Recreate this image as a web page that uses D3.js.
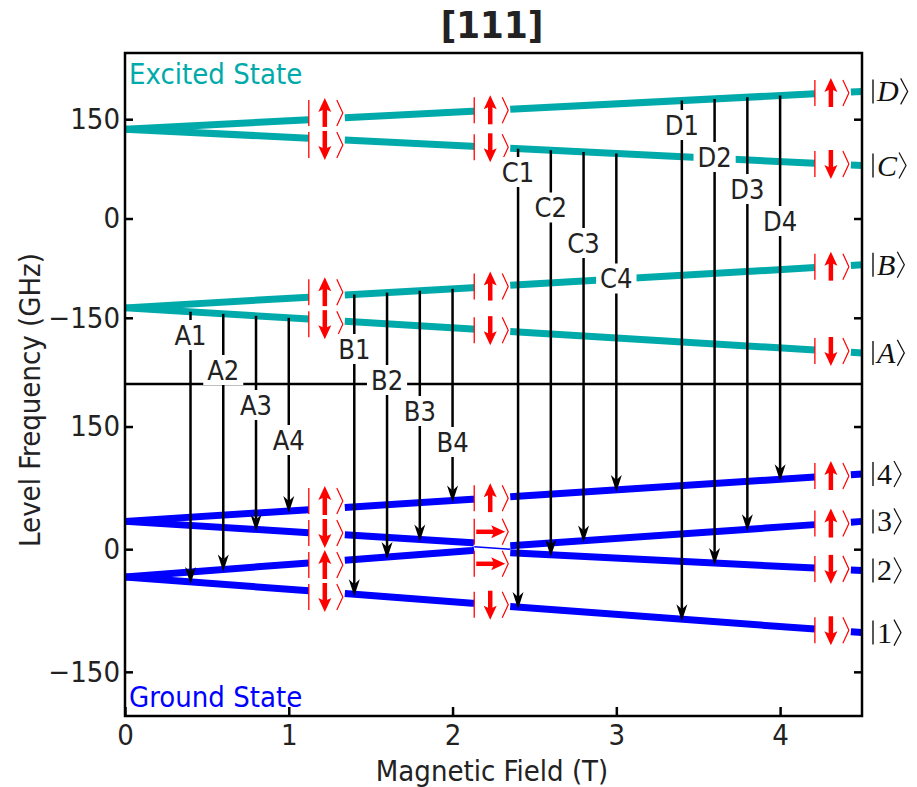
<!DOCTYPE html>
<html>
<head>
<meta charset="utf-8">
<script src="https://cdn.jsdelivr.net/npm/d3@7"></script>
<style>
  body { margin: 0; background: #fff; }
</style>
</head>
<body>
<div id="chart"></div>
<script>
// field points (T) where the level values below were read
const fieldPts = [0, 2.12, 2.35, 4.5];

// excited state levels (GHz)
const excitedNames = ['D', 'C', 'B', 'A'];
const levelD = [135, 162, 165, 192];
const levelC = [135, 109, 106, 80];
const levelB = [-135, -104.5, -101, -70];
const levelA = [-135, -167, -170.5, -203];

// ground state levels (GHz)
const groundNames = ['4', '3', '2', '1'];
const level4 = [34, 61, 64, 92];
const level3 = [-34, -1.5, 4.3, 34];
const level2 = [34, 8, -4.3, -26];
const level1 = [-34, -66, -70, -102];

// spin kets drawn on the levels
const ketFields = [1.22, 2.23, 4.31];
const excitedSpins = ['up', 'down', 'up', 'down'];
const groundSpins = [
    ['up', 'up', 'down', 'down'],
    ['up', 'right', 'right', 'down'],
    ['up', 'up', 'down', 'down']
];

// optical transitions
const transNames = ['A1', 'A2', 'A3', 'A4', 'B1', 'B2', 'B3', 'B4',
                    'C1', 'C2', 'C3', 'C4', 'D1', 'D2', 'D3', 'D4'];
const transFields = [0.4, 0.6, 0.8, 1.0, 1.4, 1.6, 1.8, 2.0,
                     2.4, 2.6, 2.8, 3.0, 3.4, 3.6, 3.8, 4.0];
const transFrom = ['A', 'A', 'A', 'A', 'B', 'B', 'B', 'B',
                   'C', 'C', 'C', 'C', 'D', 'D', 'D', 'D'];
const transTo = ['1', '3', '2', '4', '1', '3', '2', '4',
                 '1', '2', '3', '4', '1', '2', '3', '4'];

const xTicks = [0, 1, 2, 3, 4];
const yTicks = [-150, 0, 150];

// colours and fonts
const TEAL = '#00aaaa', BLUE = '#0000ff', RED = '#ff0000';
const SANS = "'Liberation Sans Narrow', 'DejaVu Sans Condensed', 'DejaVu Sans', sans-serif";
const SERIF = "'Liberation Serif', 'DejaVu Serif', serif";

const width = 917, height = 787;
const plotL = 125, plotR = 862, plotT = 53, plotMid = 384, plotB = 716;

const svg = d3.select('#chart').append('svg')
    .attr('width', width)
    .attr('height', height);

const x = d3.scaleLinear().domain([0, 4.5]).range([plotL, plotR]);
const yTop = d3.scaleLinear().domain([-250, 250]).range([plotMid, plotT]);
const yBot = d3.scaleLinear().domain([-204, 202]).range([plotB, plotMid]);

const makeLevel = vals => d3.scaleLinear().domain(fieldPts).range(vals);
const excited = {};
[levelD, levelC, levelB, levelA].forEach((v, i) => excited[excitedNames[i]] = makeLevel(v));
const ground = {};
[level4, level3, level2, level1].forEach((v, i) => ground[groundNames[i]] = makeLevel(v));

// level lines are broken where the kets sit
const gapL = 16 / (x(1) - x(0)), gapR = 20 / (x(1) - x(0));
const segs = [];
let s = 0;
ketFields.forEach(c => { segs.push([s, c - gapL]); s = c + gapR; });
segs.push([s, 4.5]);

const line = d3.line();
function drawLevel(f, y, color) {
    segs.forEach(([a, b]) => {
        const pts = [a, ...fieldPts.filter(p => p > a && p < b), b];
        svg.append('path')
            .attr('d', line(pts.map(p => [x(p), y(f(p))])))
            .attr('fill', 'none')
            .attr('stroke', color)
            .attr('stroke-width', 7);
    });
}
excitedNames.forEach(n => drawLevel(excited[n], yTop, TEAL));
groundNames.forEach(n => drawLevel(ground[n], yBot, BLUE));

// thin line through the anticrossing gap
const c2 = ketFields[1];
const midVal = b => (ground['3'](b) + ground['2'](b)) / 2;
svg.append('line')
    .attr('x1', x(c2 - gapL)).attr('x2', x(c2 + gapR))
    .attr('y1', yBot(midVal(c2 - gapL))).attr('y2', yBot(midVal(c2 + gapR)))
    .attr('stroke', BLUE).attr('stroke-width', 1.5);

// spread ket positions so they don't collide
function spread(ys, gap) {
    const idx = d3.range(ys.length).sort((a, b) => ys[a] - ys[b]);
    const v = idx.map(i => ys[i]);
    for (let it = 0; it < 80; it++) {
        for (let k = 0; k < v.length - 1; k++) {
            const d = v[k + 1] - v[k];
            if (d < gap) { v[k] -= (gap - d) / 2; v[k + 1] += (gap - d) / 2; }
        }
    }
    const out = [];
    idx.forEach((i, k) => out[i] = v[k]);
    return out;
}

function drawKet(cx, cy, dir) {
    const g = svg.append('g');
    g.append('line')
        .attr('x1', cx - 16).attr('x2', cx - 16)
        .attr('y1', cy - 13).attr('y2', cy + 13)
        .attr('stroke', RED).attr('stroke-width', 1.3);
    g.append('polyline')
        .attr('points', `${cx + 12},${cy - 13} ${cx + 18},${cy} ${cx + 12},${cy + 13}`)
        .attr('fill', 'none').attr('stroke', RED).attr('stroke-width', 1.2);
    const rot = { up: -90, down: 90, right: 0 }[dir];
    const a = g.append('g').attr('transform', `translate(${cx},${cy}) rotate(${rot})`);
    a.append('line')
        .attr('x1', -14).attr('x2', 5).attr('y1', 0).attr('y2', 0)
        .attr('stroke', RED).attr('stroke-width', 4.5);
    a.append('path')
        .attr('d', 'M15,0 L1,-6.5 L4,0 L1,6.5 Z')
        .attr('fill', RED);
}

ketFields.forEach((c, ci) => {
    const yt = spread(excitedNames.map(n => yTop(excited[n](c))), 32);
    excitedNames.forEach((n, i) => drawKet(x(c), yt[i], excitedSpins[i]));
    const yb = spread(groundNames.map(n => yBot(ground[n](c))), 32);
    groundNames.forEach((n, i) => drawKet(x(c), yb[i], groundSpins[ci][i]));
});

// transition arrows
transNames.forEach((name, i) => {
    const b = transFields[i];
    const x0 = x(b);
    const y0 = yTop(excited[transFrom[i]](b));
    const y1 = yBot(ground[transTo[i]](b)) + 2;
    svg.append('line')
        .attr('x1', x0).attr('x2', x0)
        .attr('y1', y0).attr('y2', y1 - 12)
        .attr('stroke', '#000').attr('stroke-width', 2.5);
    svg.append('path')
        .attr('d', `M${x0},${y1} L${x0 - 5.5},${y1 - 17} L${x0},${y1 - 12} L${x0 + 5.5},${y1 - 17} Z`)
        .attr('fill', '#000');
});

// frame, divider and axes
svg.append('rect')
    .attr('x', plotL).attr('y', plotT)
    .attr('width', plotR - plotL).attr('height', plotB - plotT)
    .attr('fill', 'none').attr('stroke', '#000').attr('stroke-width', 2.5);
svg.append('line')
    .attr('x1', plotL).attr('x2', plotR).attr('y1', plotMid).attr('y2', plotMid)
    .attr('stroke', '#000').attr('stroke-width', 2.5);

function styleAxis(g) {
    g.select('.domain').remove();
    g.selectAll('.tick line').attr('stroke', '#000').attr('stroke-width', 2.5);
    g.selectAll('.tick text')
        .attr('font-family', SANS).attr('font-size', 29).attr('fill', '#222');
}

[yTop, yBot].forEach(y => {
    svg.append('g')
        .attr('transform', `translate(${plotL},0)`)
        .call(d3.axisLeft(y).tickValues(yTicks).tickSize(-8).tickPadding(5))
        .call(styleAxis);
    svg.append('g')
        .attr('transform', `translate(${plotR},0)`)
        .call(d3.axisRight(y).tickValues(yTicks).tickSize(-8).tickFormat(''))
        .call(styleAxis);
});

svg.append('g')
    .attr('transform', `translate(0,${plotB})`)
    .call(d3.axisBottom(x).tickValues(xTicks).tickFormat(d3.format('d'))
        .tickSize(-9).tickPadding(8))
    .call(styleAxis);

// transition labels with white boxes
const labelStart = { A: 335, B: 349, C: 172, D: 125 };
const labelStep = { A: 35, B: 31, C: 35.5, D: 32 };
transNames.forEach((name, i) => {
    const grp = name[0], k = +name[1] - 1;
    const cx = x(transFields[i]);
    const cy = labelStart[grp] + k * labelStep[grp];
    const g = svg.append('g');
    const t = g.append('text')
        .attr('x', cx).attr('y', cy)
        .attr('dy', '0.36em')
        .attr('text-anchor', 'middle')
        .attr('font-family', SANS).attr('font-size', 27).attr('fill', '#222')
        .text(name);
    const w = t.node().getComputedTextLength();
    g.insert('rect', 'text')
        .attr('x', cx - w / 2 - 4).attr('y', cy - 15)
        .attr('width', w + 8).attr('height', 30)
        .attr('fill', '#fff');
});

// state labels on the right
function drawStateLabel(y, label, italic) {
    svg.append('line')
        .attr('x1', 873).attr('x2', 873).attr('y1', y - 12).attr('y2', y + 12)
        .attr('stroke', '#111').attr('stroke-width', 1.4);
    const t = svg.append('text')
        .attr('x', 877).attr('y', y + 10)
        .attr('font-family', SERIF).attr('font-size', 30)
        .attr('font-style', italic ? 'italic' : 'normal')
        .attr('fill', '#111')
        .text(label);
    const xe = 877 + t.node().getComputedTextLength() + 2;
    svg.append('polyline')
        .attr('points', `${xe},${y - 13} ${xe + 7},${y} ${xe},${y + 13}`)
        .attr('fill', 'none').attr('stroke', '#111').attr('stroke-width', 1.2);
}
excitedNames.forEach(n => drawStateLabel(yTop(excited[n](4.5)), n, true));
groundNames.forEach(n => drawStateLabel(yBot(ground[n](4.5)), n, false));

// panel captions
svg.append('text')
    .attr('x', 129).attr('y', 84)
    .attr('font-family', SANS).attr('font-size', 29).attr('fill', TEAL)
    .text('Excited State');
svg.append('text')
    .attr('x', 129).attr('y', 707)
    .attr('font-family', SANS).attr('font-size', 29).attr('fill', BLUE)
    .text('Ground State');

// titles
svg.append('text')
    .attr('x', 492).attr('y', 38)
    .attr('text-anchor', 'middle')
    .attr('font-family', SANS).attr('font-size', 38).attr('font-weight', 'bold')
    .attr('fill', '#222')
    .text('[111]');
svg.append('text')
    .attr('x', 492).attr('y', 781)
    .attr('text-anchor', 'middle')
    .attr('font-family', SANS).attr('font-size', 29).attr('fill', '#222')
    .text('Magnetic Field (T)');
svg.append('text')
    .attr('transform', 'translate(40,400) rotate(-90)')
    .attr('text-anchor', 'middle')
    .attr('font-family', SANS).attr('font-size', 29).attr('fill', '#222')
    .text('Level Frequency (GHz)');
</script>
</body>
</html>
